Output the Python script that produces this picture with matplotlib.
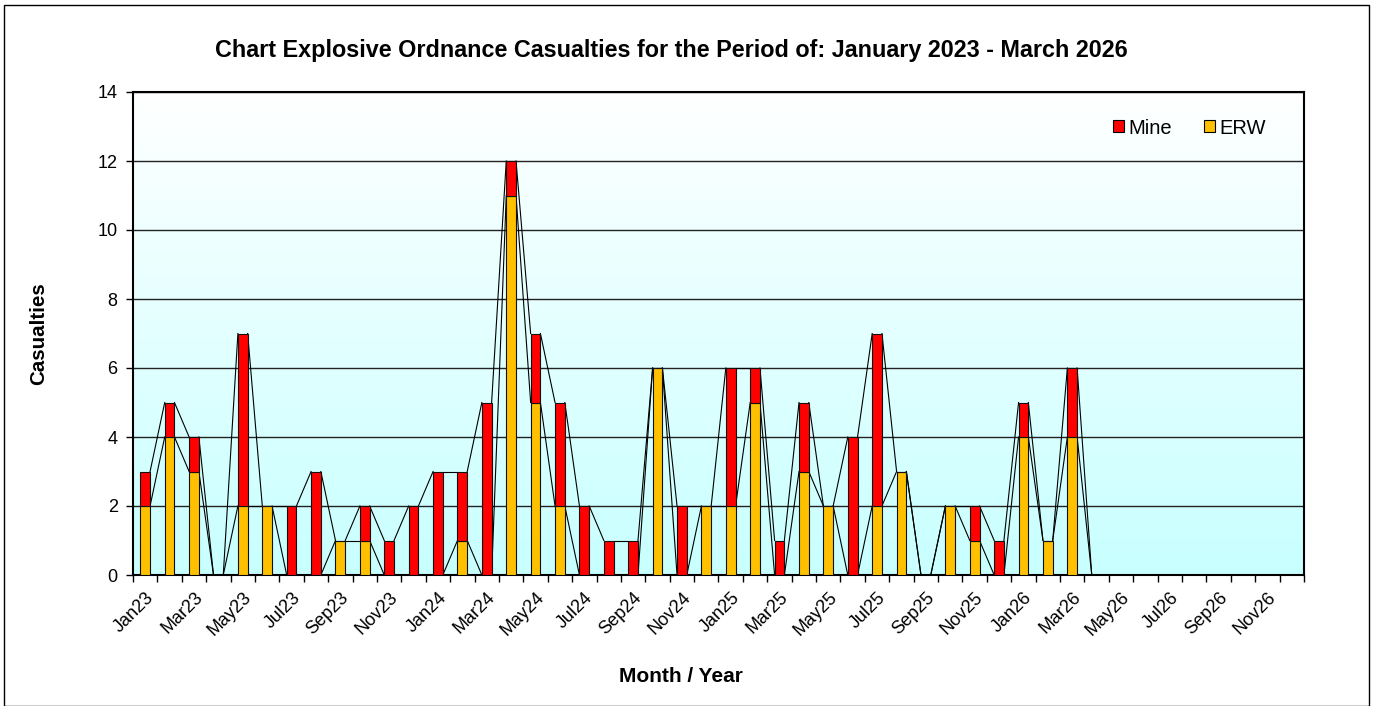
import numpy as np
import matplotlib
matplotlib.use("Agg")
import matplotlib.pyplot as plt
from matplotlib.patches import Rectangle
from matplotlib.colors import LinearSegmentedColormap

plt.rcParams['font.family'] = ['Liberation Sans', 'DejaVu Sans']

months = [f"{m}{y}" for y in ("23", "24", "25", "26")
          for m in ("Jan", "Feb", "Mar", "Apr", "May", "Jun",
                    "Jul", "Aug", "Sep", "Oct", "Nov", "Dec")]

erw = [2, 4, 3, 0, 2, 2, 0, 0, 1, 1, 0, 0,
       0, 1, 0, 11, 5, 2, 0, 0, 0, 6, 0, 2,
       2, 5, 0, 3, 2, 0, 2, 3, 0, 2, 1, 0,
       4, 1, 4, 0, 0, 0, 0, 0, 0, 0, 0, 0]
mine = [1, 1, 1, 0, 5, 0, 2, 3, 0, 1, 1, 2,
        3, 2, 5, 1, 2, 3, 2, 1, 1, 0, 2, 0,
        4, 1, 1, 2, 0, 4, 5, 0, 0, 0, 1, 1,
        1, 0, 2, 0, 0, 0, 0, 0, 0, 0, 0, 0]
last_index = 39  # Apr26: series lines end here

title = "Chart Explosive Ordnance Casualties for the Period of: January 2023 - March 2026"

W, H = 1379, 706
fig = plt.figure(figsize=(W / 100, H / 100), dpi=100)
ax = fig.add_axes([133 / W, 1 - 575 / H, (1304 - 133) / W, (575 - 92) / H])

x = np.arange(len(months))
erw_a = np.array(erw, float)
mine_a = np.array(mine, float)
tot = erw_a + mine_a
bw = 0.4

# gradient background (white at top, light cyan at bottom)
cmap = LinearSegmentedColormap.from_list("bg", ["#C8FFFF", "#FFFFFF"])
grad = np.linspace(0, 1, 256).reshape(-1, 1)
ax.imshow(grad, aspect='auto', cmap=cmap, origin='lower',
          extent=(-0.5, len(months) - 0.5, 0, 14), zorder=0, interpolation='bilinear')

ax.bar(x, erw_a, bw, color="#FFC000", edgecolor="#111111", linewidth=0.8, zorder=3)
ax.bar(x, mine_a, bw, bottom=erw_a, color="#FF0000", edgecolor="#111111", linewidth=0.8, zorder=3)

# series lines
for i in range(last_index):
    for s in (erw_a, tot):
        ax.plot([x[i] + bw / 2, x[i + 1] - bw / 2], [s[i], s[i + 1]],
                color="black", linewidth=0.8, zorder=2.5)

ax.set_xlim(-0.5, len(months) - 0.5)
ax.set_ylim(0, 14)
ax.set_yticks(np.arange(0, 15, 2))
ax.yaxis.grid(True, color="#222222", linewidth=1.0, zorder=1)
ax.set_axisbelow(True)
ax.tick_params(axis='y', labelsize=13, length=5, width=1, direction='out', pad=6)

ax.set_xticks(x[::2])
ax.set_xticklabels(months[::2], rotation=45, ha='right', rotation_mode='anchor', fontsize=13)
ax.set_xticks(np.arange(-0.5, len(months), 1), minor=True)
ax.tick_params(axis='x', which='major', length=0, pad=10)
ax.tick_params(axis='x', which='minor', length=5, width=1, direction='out')

for sp in ax.spines.values():
    sp.set_linewidth(1.5)
    sp.set_color("black")

ax.set_ylabel("Casualties", fontsize=14.8, fontweight='bold')
ax.yaxis.set_label_coords((48 - 133) / (1304 - 133), 0.5)
fig.text(681 / W, 1 - 677 / H, "Month / Year", fontsize=15, fontweight='bold', ha='center', va='center')
fig.text(671 / W, 1 - 51 / H, title, fontsize=16.8, fontweight='bold', ha='center', va='center')

handles = [Rectangle((0, 0), 1, 1, facecolor="#FF0000", edgecolor="black", linewidth=0.8),
           Rectangle((0, 0), 1, 1, facecolor="#FFC000", edgecolor="black", linewidth=0.8)]
leg = fig.legend(handles, ["Mine", "ERW"], loc='center left',
                 bbox_to_anchor=(1113 / W, 1 - 128 / H), borderaxespad=0, borderpad=0,
                 ncol=2, frameon=False, fontsize=14.5, handlelength=0.55, handleheight=0.55,
                 handletextpad=0.2, columnspacing=1.6)

# figure border
fig.add_artist(Rectangle((4 / W, 0), (1369 - 4) / W, 1 - 5 / H, transform=fig.transFigure,
                         fill=False, edgecolor="black", linewidth=1.0))

fig.savefig("out.png", dpi=100)
